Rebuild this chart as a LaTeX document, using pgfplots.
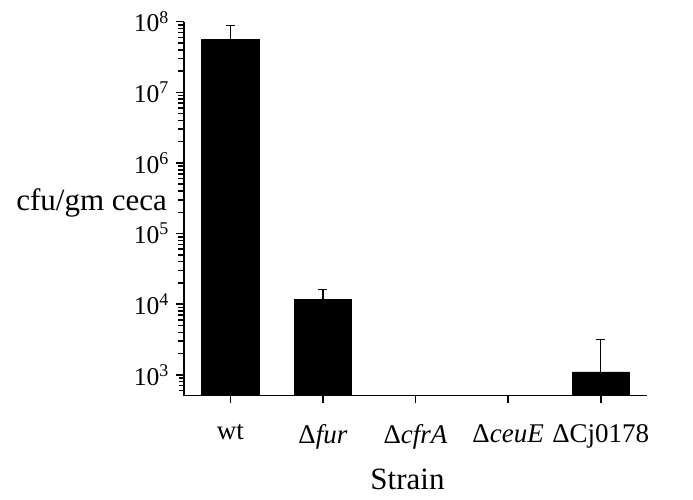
\documentclass[border=0pt]{standalone}
\usepackage{fontspec}
\setmainfont{Liberation Serif}
\usepackage{pgfplots}
\pgfplotsset{compat=1.18}
\begin{document}
\begin{tikzpicture}
\begin{axis}[
  width=231.5pt, height=187pt, scale only axis,
  ymode=log, ymin=507, ymax=1e8,
  xmin=-0.5, xmax=4.5,
  axis x line*=bottom, axis y line*=left,
  axis line style={-, line width=0.7pt},
  ybar, bar width=0.62,
  xtick={0,...,4},
  xticklabels={wt, Δ\textit{fur}, Δ\textit{cfrA}, Δ\textit{ceuE}, ΔCj0178},
  ytick={1e3,1e4,1e5,1e6,1e7,1e8},
  yticklabels={10\textsuperscript{3},10\textsuperscript{4},10\textsuperscript{5},10\textsuperscript{6},10\textsuperscript{7},10\textsuperscript{8}},
  extra y ticks={600,700,800,900,
    2e3,3e3,4e3,5e3,6e3,7e3,8e3,9e3,
    2e4,3e4,4e4,5e4,6e4,7e4,8e4,9e4,
    2e5,3e5,4e5,5e5,6e5,7e5,8e5,9e5,
    2e6,3e6,4e6,5e6,6e6,7e6,8e6,9e6,
    2e7,3e7,4e7,5e7,6e7,7e7,8e7,9e7},
  extra y tick labels={},
  extra y tick style={major tick length=2.5pt, tick style={black, line width=0.7pt}},
  tick align=outside, major tick length=3.8pt,
  tick style={black, line width=0.8pt},
  xticklabel style={font=\fontsize{13.5}{16}\selectfont, yshift=-7pt},
  yticklabel style={font=\fontsize{12.8}{15}\selectfont},
  xlabel=Strain, ylabel=cfu/gm ceca,
  label style={font=\fontsize{15.5}{18}\selectfont},
  ylabel style={rotate=-90, at={(axis description cs:0,0.5)}, anchor=east, xshift=-5pt, yshift=3pt},
  xlabel style={xshift=-4pt, yshift=-3pt},
]
\addplot[fill=black, draw=black,
  error bars/.cd, y dir=plus, y explicit, error mark=|,
  error bar style={black, line width=0.6pt},
  error mark options={black, mark size=2.25pt, line width=0.6pt}]
  coordinates {(0,5.66e7) +- (0,3.2e7) (1,1.16e4) +- (0,0.46e4) (4,1.1e3) +- (0,2.05e3)};
\end{axis}
\path ([xshift=-92pt,yshift=-52pt]current axis.south west) rectangle ([xshift=23pt,yshift=10.85pt]current axis.north east);
\end{tikzpicture}
\end{document}
